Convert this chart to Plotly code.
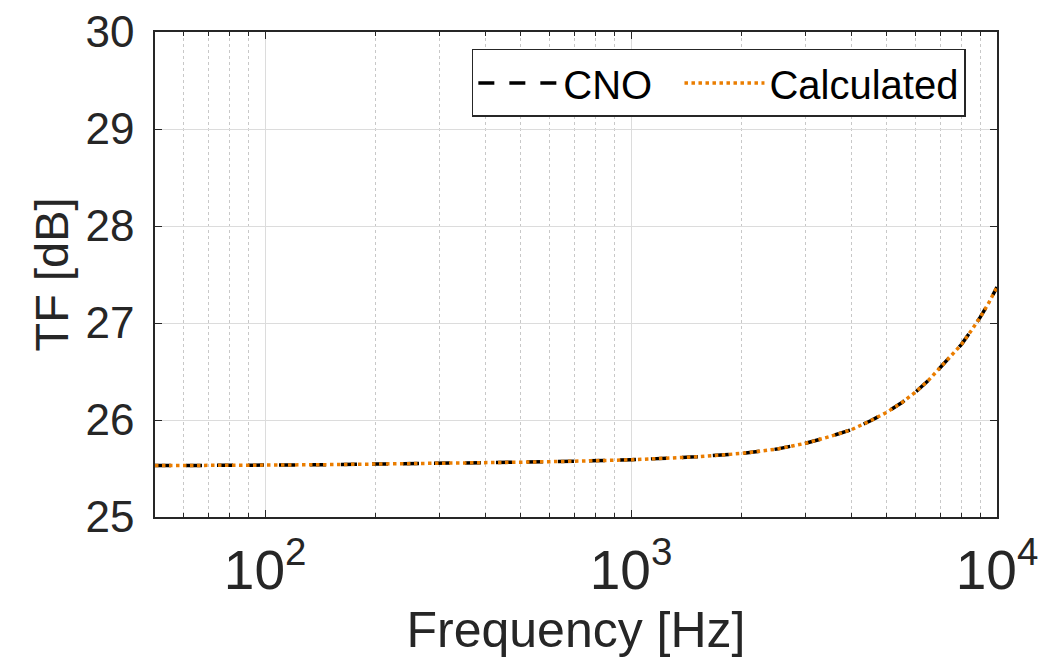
import plotly.graph_objects as go

# frequency response
freq_hz = [50, 70, 100, 150, 200, 300, 500, 700, 1000, 1500, 2000, 2500, 3000,
           3500, 4000, 4500, 5000, 5500, 6000, 6500, 7000, 7500, 8000, 8500,
           9000, 9500, 10000]
tf_cno = [25.53, 25.53, 25.535, 25.54, 25.545, 25.55, 25.565, 25.575, 25.59,
          25.62, 25.655, 25.70, 25.76, 25.83, 25.90, 25.99, 26.08, 26.18,
          26.29, 26.41, 26.54, 26.66, 26.78, 26.92, 27.06, 27.21, 27.37]
tf_calc = list(tf_cno)

axis_col = "#262626"
font = dict(family="Liberation Sans, Arial, sans-serif", size=44, color=axis_col)

fig = go.Figure()
# trailing nbsp widens the gap between the two legend entries
fig.add_trace(go.Scatter(x=freq_hz, y=tf_cno, name="CNO\u00a0\u00a0", mode="lines",
                         line=dict(color="black", width=3.5, dash="16px,15px")))
fig.add_trace(go.Scatter(x=freq_hz, y=tf_calc, name="Calculated", mode="lines",
                         line=dict(color="#EA7D00", width=3.5, dash="dot")))

fig.update_xaxes(
    type="log", range=[1.699, 4], dtick=1, exponentformat="power",
    showline=True, linecolor=axis_col, linewidth=1.5, mirror="ticks",
    ticks="inside", ticklen=7, tickcolor=axis_col, ticklabelstandoff=6,
    ticklabeloverflow="allow", automargin=False,
    showgrid=True, gridcolor="#dcdcdc", gridwidth=1,
    minor=dict(dtick="D1", ticks="inside", ticklen=4, tickcolor=axis_col,
               showgrid=True, gridcolor="#c8c8c8", griddash="dot", gridwidth=1),
    title=dict(text="Frequency [Hz]", standoff=12, font=dict(size=50)),
    zeroline=False,
)
fig.update_yaxes(
    range=[25, 30], dtick=1,
    showline=True, linecolor=axis_col, linewidth=1.5, mirror="ticks",
    ticks="inside", ticklen=7, tickcolor=axis_col, ticklabelstandoff=10,
    ticklabeloverflow="allow", automargin=False,
    showgrid=True, gridcolor="#dcdcdc", gridwidth=1,
    title=dict(text="TF [dB]", standoff=2, font=dict(size=47)),
    zeroline=False,
)

# page body has an 8px margin, so margins are shifted to compensate
fig.update_layout(
    width=1053, height=664,
    margin=dict(l=147, r=64, t=24, b=155),
    paper_bgcolor="white", plot_bgcolor="white",
    font=font,
    legend=dict(orientation="h", x=0.963, y=0.965, xanchor="right", yanchor="top",
                bgcolor="white", bordercolor=axis_col, borderwidth=1.5,
                itemwidth=80, font=dict(size=40, color="black"),
                tracegroupgap=0, traceorder="normal"),
    showlegend=True,
)

fig.write_html("out.html")
